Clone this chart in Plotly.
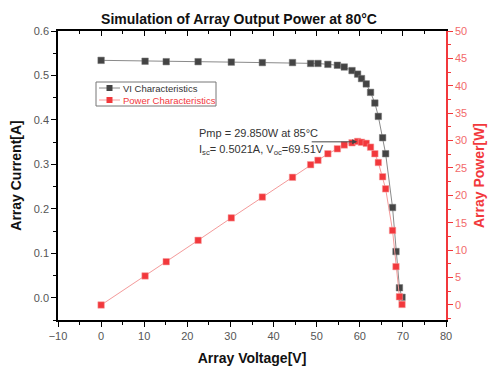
import plotly.graph_objects as go

title = "Simulation of Array Output Power at 80°C"
voltage = [0, 10.2, 15.1, 22.5, 30.2, 37.4, 44.4, 48.6, 50.3, 52.6, 54.8, 56.4, 58.2,
           59.5, 60.4, 61.5, 62.5, 63.5, 64.3, 65.3, 66.0, 67.6, 68.4, 69.2, 69.8]
current = [0.534, 0.532, 0.531, 0.531, 0.530, 0.529, 0.529, 0.527, 0.527, 0.525, 0.523,
           0.519, 0.511, 0.503, 0.493, 0.481, 0.462, 0.438, 0.408, 0.360, 0.324, 0.203,
           0.104, 0.0225, 0.001]
power = [0, 5.3, 7.9, 11.8, 15.9, 19.7, 23.3, 25.6, 26.4, 27.6, 28.5, 29.2, 29.6,
         29.85, 29.7, 29.5, 28.8, 27.6, 26.0, 23.4, 21.2, 13.6, 7.0, 1.5, 0.1]
legend_names = ["VI Characteristics", "Power Characteristics"]

RED = "#f2383c"
TICKC = "#555555"
FONT = "Liberation Sans, Arial, sans-serif"
VI_LINE, VI_MARK = "#8a8a8a", "#444444"
P_LINE = "#f49a9a"

fig = go.Figure()
fig.add_trace(go.Scatter(
    x=voltage, y=current, mode="lines+markers", name=legend_names[0],
    line=dict(color=VI_LINE, width=1),
    marker=dict(symbol="square", size=6.5, color=VI_MARK, line=dict(color="#777777", width=0.5)),
    xaxis="x", yaxis="y", showlegend=False))
fig.add_trace(go.Scatter(
    x=voltage, y=power, mode="lines+markers", name=legend_names[1],
    line=dict(color=P_LINE, width=1),
    marker=dict(symbol="square", size=6.5, color=RED, line=dict(color="#f7a0a0", width=0.5)),
    xaxis="x2", yaxis="y2", showlegend=False))

# page body has an 8px margin: figure is offset by 8px right/down
fig.update_layout(
    width=492, height=368,
    margin=dict(l=50, r=54, t=23, b=56),
    paper_bgcolor="white", plot_bgcolor="white",
    font=dict(family=FONT, size=11, color=TICKC),
    title=dict(text="<b>" + title + "</b>", x=(239 - 8) / 492, xanchor="center",
               y=1 - (19 - 8) / 368, yanchor="middle",
               font=dict(family=FONT, size=14, color="#111111")),
    xaxis=dict(range=[-10, 80], dtick=10, showline=True, linecolor="black", linewidth=1.5,
               ticks="outside", ticklen=5, tickcolor="black", showgrid=False, zeroline=False,
               minor=dict(ticks="outside", ticklen=3, dtick=5, tickcolor="black"),
               tickfont=dict(size=11, color=TICKC), automargin=False,
               title=dict(text="<b>Array Voltage[V]</b>", font=dict(size=14, color="#111111"), standoff=12)),
    xaxis2=dict(range=[-10, 80], dtick=10, overlaying="x", side="top", anchor="y2",
                showline=True, linecolor="black", linewidth=1.5, ticks="inside", ticklen=5,
                tickcolor="black", showticklabels=False, showgrid=False, zeroline=False,
                automargin=False,
                minor=dict(ticks="inside", ticklen=3, dtick=5, tickcolor="black")),
    yaxis=dict(range=[-0.05, 0.6], tick0=0, dtick=0.1, tickformat=".1f", showline=True,
               linecolor="black", linewidth=1.5, ticks="outside", ticklen=5, tickcolor="black",
               showgrid=False, zeroline=False, automargin=False,
               minor=dict(ticks="outside", ticklen=3, dtick=0.05, tickcolor="black"),
               tickfont=dict(size=11, color=TICKC),
               title=dict(text="<b>Array Current[A]</b>", font=dict(size=14, color="#111111"), standoff=10)),
    yaxis2=dict(range=[-2.74, 50], tick0=0, dtick=5, overlaying="y", side="right", anchor="x2",
                showline=True, linecolor=RED, linewidth=1.5, ticks="outside", ticklen=5,
                tickcolor=RED, showgrid=False, zeroline=False, automargin=False,
                minor=dict(ticks="outside", ticklen=3, dtick=2.5, tickcolor=RED),
                tickfont=dict(size=11, color="#f26a6a"),
                title=dict(text="<b>Array Power[W]</b>", font=dict(size=14, color=RED), standoff=8)),
    showlegend=False,
)

# manual compact legend (screen px -> plot-area paper fractions)
W, H = 388.0, 289.0
def px(x):
    return (x - 58) / W
def py(y):
    return (320 - y) / H

fig.add_shape(type="rect", xref="paper", yref="paper", x0=px(96), x1=px(216), y0=py(106), y1=py(82),
              line=dict(color="#777777", width=1), fillcolor="white", layer="above")
for i, (lc, mc, tc) in enumerate([(VI_LINE, VI_MARK, "#333333"), (P_LINE, RED, RED)]):
    yy = 88 + 12 * i
    fig.add_shape(type="line", xref="paper", yref="paper", x0=px(99), x1=px(120), y0=py(yy), y1=py(yy),
                  line=dict(color=lc, width=1), layer="above")
    fig.add_shape(type="rect", xref="paper", yref="paper", x0=px(106.5), x1=px(112.5),
                  y0=py(yy + 3), y1=py(yy - 3), line=dict(width=0), fillcolor=mc, layer="above")
    fig.add_annotation(x=px(121), y=py(yy), xref="paper", yref="paper", xanchor="left",
                       yanchor="middle", text=legend_names[i], showarrow=False,
                       font=dict(size=9.5, color=tc))

fig.add_annotation(x=59.4, y=0.3507, xref="x", yref="y", ax=-47, ay=0, text="",
                   showarrow=True, arrowhead=2, arrowsize=1, arrowwidth=1, arrowcolor="#444444")
fig.add_annotation(x=22.2, y=0.371, xref="x", yref="y", xanchor="left", yanchor="middle",
                   text="Pmp = 29.850W at 85°C", showarrow=False,
                   font=dict(size=11, color="#333333"))
fig.add_annotation(x=22.2, y=0.3327, xref="x", yref="y", xanchor="left", yanchor="middle",
                   text="I<sub>sc</sub>= 0.5021A, V<sub>oc</sub>=69.51V", showarrow=False,
                   font=dict(size=11, color="#333333"))

fig.write_html("out.html")
